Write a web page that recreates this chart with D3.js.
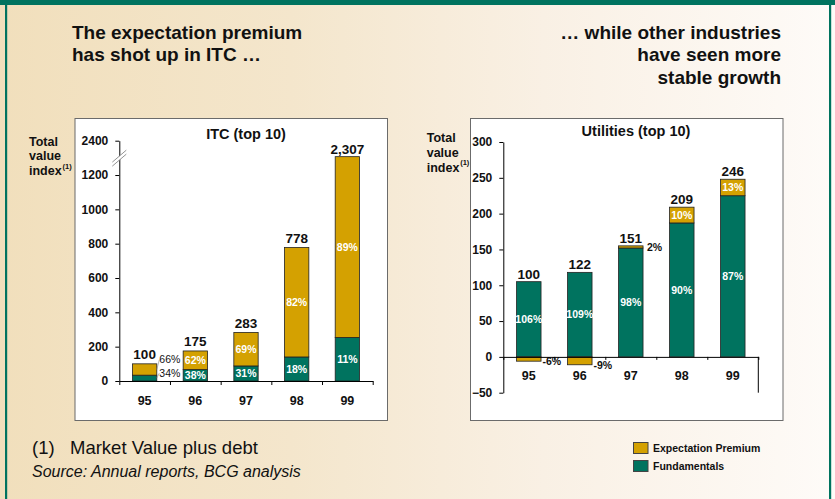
<!DOCTYPE html>
<html>
<head>
<meta charset="utf-8">
<script src="https://cdn.jsdelivr.net/npm/d3@7"></script>
<style>
  body { margin: 0; }
  svg { display: block; font-family: "Liberation Sans", Arial, sans-serif; }
</style>
</head>
<body>
<div id="chart"></div>
<script>
// Values
var years = ["95", "96", "97", "98", "99"];

var itcTotal = [100, 175, 283, 778, 2307];
var itcFundShare = [34, 38, 31, 18, 11];
var itcPremShare = [66, 62, 69, 82, 89];
var itcTicks = [0, 200, 400, 600, 800, 1000, 1200, 2400];

var utilTotal = [100, 122, 151, 209, 246];
var utilFund = [105, 118, 152, 187, 225];
var utilPrem = [-6, -11, 3, 22, 23];
var utilFundLabel = ["106%", "109%", "98%", "90%", "87%"];
var utilPremLabel = ["-6%", "-9%", "2%", "10%", "13%"];
var utilTicks = [-50, 0, 50, 100, 150, 200, 250, 300];

var teal = "#00735f";
var gold = "#d4a101";

var width = 835, height = 499;

var svg = d3.select("#chart").append("svg")
    .attr("width", width)
    .attr("height", height);

// background gradient
var grad = svg.append("defs").append("linearGradient")
    .attr("id", "bg").attr("x1", "0").attr("x2", "1").attr("y1", "0").attr("y2", "0");
grad.append("stop").attr("offset", "0").attr("stop-color", "#f1dfbc");
grad.append("stop").attr("offset", "0.35").attr("stop-color", "#f4e6cc");
grad.append("stop").attr("offset", "0.65").attr("stop-color", "#f9f0e4");
grad.append("stop").attr("offset", "1").attr("stop-color", "#fefbf8");

svg.append("rect").attr("width", width).attr("height", height).attr("fill", "url(#bg)");
svg.append("rect").attr("x", 0).attr("y", 0).attr("width", width).attr("height", 5).attr("fill", teal);
svg.append("rect").attr("x", 5).attr("y", 0).attr("width", 2.2).attr("height", height).attr("fill", teal);
svg.append("rect").attr("x", 829).attr("y", 0).attr("width", 2.2).attr("height", height).attr("fill", teal);

// headlines
function lines(list, x, y0, anchor) {
    var t = svg.append("text")
        .attr("text-anchor", anchor)
        .attr("font-weight", "bold")
        .attr("font-size", 19)
        .attr("fill", "#111");
    list.forEach(function(s, i) {
        t.append("tspan").attr("x", x).attr("y", y0 + i * 22.5).text(s);
    });
}
lines(["The expectation premium", "has shot up in ITC \u2026"], 72, 38.5, "start");
lines(["\u2026 while other industries", "have seen more", "stable growth"], 781, 38.5, "end");

// white chart boxes
svg.append("rect").attr("x", 75).attr("y", 118.5).attr("width", 312.5).attr("height", 302)
    .attr("fill", "#fff").attr("stroke", "#6b6b6b").attr("stroke-width", 1);
svg.append("rect").attr("x", 470.5).attr("y", 118.5).attr("width", 312.5).attr("height", 302)
    .attr("fill", "#fff").attr("stroke", "#6b6b6b").attr("stroke-width", 1);

function yLabel(x, y0) {
    var t = svg.append("text").attr("font-weight", "bold").attr("font-size", 12.5).attr("fill", "#111");
    t.append("tspan").attr("x", x).attr("y", y0).text("Total");
    t.append("tspan").attr("x", x).attr("y", y0 + 14.7).text("value");
    t.append("tspan").attr("x", x).attr("y", y0 + 29.4).text("index");
    svg.append("text").attr("x", x + 33.5).attr("y", y0 + 23).attr("font-size", 7.5)
        .attr("font-weight", "bold").attr("fill", "#111").text("(1)");
}
yLabel(29, 145.7);
yLabel(426.7, 142.3);

// ---------------- ITC chart ----------------
var breakAt = 1200, breakGap = 1000;
function brk(v) { return v > breakAt ? v - breakGap : v; }

var x1 = d3.scaleBand().domain(years).range([119.3, 372.7]).paddingInner(0.52).paddingOuter(0.26);
var y1 = d3.scaleLinear().domain([0, 1400]).range([381, 140.7]);
var x1Edge = d3.scaleLinear().domain([0, years.length]).range(x1.range());

var g1 = svg.append("g");

g1.append("text").attr("x", 246).attr("y", 139).attr("text-anchor", "middle")
    .attr("font-weight", "bold").attr("font-size", 14.5).attr("fill", "#111").text("ITC (top 10)");

var itcRows = years.map(function(yr, i) {
    var fund = itcTotal[i] * itcFundShare[i] / 100;
    return { yr: yr, i: i, fund: fund, total: itcTotal[i] };
});

g1.selectAll(".fund").data(itcRows).enter().append("rect")
    .attr("x", d => x1(d.yr)).attr("width", x1.bandwidth())
    .attr("y", d => y1(d.fund)).attr("height", d => y1(0) - y1(d.fund))
    .attr("fill", teal).attr("stroke", "#222").attr("stroke-width", 0.8);

g1.selectAll(".prem").data(itcRows).enter().append("rect")
    .attr("x", d => x1(d.yr)).attr("width", x1.bandwidth())
    .attr("y", d => y1(brk(d.total))).attr("height", d => y1(d.fund) - y1(brk(d.total)))
    .attr("fill", gold).attr("stroke", "#222").attr("stroke-width", 0.8);

// totals
g1.selectAll(".tot").data(itcRows).enter().append("text")
    .attr("x", d => x1(d.yr) + x1.bandwidth() / 2)
    .attr("y", d => y1(brk(d.total)) - (d.total > breakAt ? 2.5 : 4.5))
    .attr("text-anchor", "middle").attr("font-weight", "bold").attr("font-size", 13.5).attr("fill", "#111")
    .text(d => d.total >= 1000 ? d3.format(",")(d.total) : d.total);

// percent labels
itcRows.forEach(function(d) {
    var cx = x1(d.yr) + x1.bandwidth() / 2;
    if (d.total < 150) {
        var lx = x1(d.yr) + x1.bandwidth() + 2.5;
        g1.append("text").attr("x", lx).attr("y", y1(d.total) - 1)
            .attr("font-size", 10.5).attr("fill", "#111").text(itcPremShare[d.i] + "%");
        g1.append("text").attr("x", lx).attr("y", y1(d.fund) + 2)
            .attr("font-size", 10.5).attr("fill", "#111").text(itcFundShare[d.i] + "%");
        g1.append("line").attr("x1", lx - 2.5).attr("x2", lx).attr("y1", y1((d.fund + d.total) / 2)).attr("y2", y1(d.total) - 4)
            .attr("stroke", "#888").attr("stroke-width", 0.6);
        g1.append("line").attr("x1", lx - 2.5).attr("x2", lx).attr("y1", y1(d.fund / 2)).attr("y2", y1(d.fund) - 2)
            .attr("stroke", "#888").attr("stroke-width", 0.6);
    } else {
        g1.append("text").attr("x", cx).attr("y", (y1(d.fund) + y1(brk(d.total))) / 2).attr("dy", "0.36em")
            .attr("text-anchor", "middle").attr("font-weight", "bold").attr("font-size", 10.5).attr("fill", "#fff")
            .text(itcPremShare[d.i] + "%");
        g1.append("text").attr("x", cx).attr("y", (y1(0) + y1(d.fund)) / 2).attr("dy", "0.36em")
            .attr("text-anchor", "middle").attr("font-weight", "bold").attr("font-size", 10.5).attr("fill", "#fff")
            .text(itcFundShare[d.i] + "%");
    }
});

// axes
g1.append("g").attr("transform", "translate(" + x1.range()[0] + ",0)")
    .call(d3.axisLeft(y1).tickValues(itcTicks.map(brk)).tickSize(4).tickSizeOuter(0).tickPadding(7)
        .tickFormat(function(v, i) { return itcTicks[i]; }));
g1.append("g").attr("transform", "translate(0," + y1(0) + ")")
    .call(d3.axisBottom(x1Edge).ticks(years.length).tickSize(4).tickSizeOuter(0).tickFormat(""));
g1.selectAll(".xl").data(years).enter().append("text")
    .attr("x", d => x1(d) + x1.bandwidth() / 2).attr("y", y1(0) + 23.5)
    .attr("text-anchor", "middle").attr("font-weight", "bold").attr("font-size", 12.5).attr("fill", "#111").text(d => d);

// axis break mark
var by = y1(1310), bxp = x1.range()[0];
g1.append("path").attr("d", "M" + (bxp - 7) + "," + (by + 6) + "L" + (bxp + 7) + "," + (by - 6) +
        "L" + (bxp + 7) + "," + (by - 2) + "L" + (bxp - 7) + "," + (by + 10) + "Z")
    .attr("fill", "#fff");
[0, 4].forEach(function(o) {
    g1.append("line").attr("x1", bxp - 7).attr("y1", by + 6 + o).attr("x2", bxp + 7).attr("y2", by - 6 + o)
        .attr("stroke", "#777").attr("stroke-width", 0.8);
});

// ---------------- Utilities chart ----------------
var x2 = d3.scaleBand().domain(years).range([503.3, 758.3]).paddingInner(0.52).paddingOuter(0.26);
var y2 = d3.scaleLinear().domain([-50, 300]).range([392.7, 142]);
var x2Edge = d3.scaleLinear().domain([0, years.length]).range(x2.range());

var g2 = svg.append("g");
g2.append("text").attr("x", 636).attr("y", 135.7).attr("text-anchor", "middle")
    .attr("font-weight", "bold").attr("font-size", 14.5).attr("fill", "#111").text("Utilities (top 10)");

var utilRows = years.map(function(yr, i) {
    return { yr: yr, i: i, fund: utilFund[i], prem: utilPrem[i], total: utilTotal[i] };
});

g2.selectAll(".fund").data(utilRows).enter().append("rect")
    .attr("x", d => x2(d.yr)).attr("width", x2.bandwidth())
    .attr("y", d => y2(d.fund)).attr("height", d => y2(0) - y2(d.fund))
    .attr("fill", teal).attr("stroke", "#222").attr("stroke-width", 0.8);

g2.selectAll(".prem").data(utilRows).enter().append("rect")
    .attr("x", d => x2(d.yr)).attr("width", x2.bandwidth())
    .attr("y", d => d.prem < 0 ? y2(0) : y2(d.fund + d.prem))
    .attr("height", d => Math.abs(y2(0) - y2(d.prem)))
    .attr("fill", gold).attr("stroke", "#222").attr("stroke-width", 0.8);

g2.selectAll(".tot").data(utilRows).enter().append("text")
    .attr("x", d => x2(d.yr) + x2.bandwidth() / 2)
    .attr("y", d => y2(d.fund + Math.max(d.prem, 0)) - 3)
    .attr("text-anchor", "middle").attr("font-weight", "bold").attr("font-size", 13.5).attr("fill", "#111")
    .text(d => d.total);

utilRows.forEach(function(d) {
    var cx = x2(d.yr) + x2.bandwidth() / 2;
    var right = x2(d.yr) + x2.bandwidth();
    g2.append("text").attr("x", cx).attr("y", (y2(0) + y2(d.fund)) / 2).attr("dy", "0.36em")
        .attr("text-anchor", "middle").attr("font-weight", "bold").attr("font-size", 10.5).attr("fill", "#fff")
        .text(utilFundLabel[d.i]);
    if (d.prem < 0) {
        g2.append("text").attr("x", right + 1.5).attr("y", y2(d.prem) + 4)
            .attr("font-weight", "bold").attr("font-size", 10.5).attr("fill", "#111").text(utilPremLabel[d.i]);
    } else if (d.prem < 5) {
        g2.append("text").attr("x", right + 4).attr("y", y2(d.fund + d.prem) + 5.5)
            .attr("font-weight", "bold").attr("font-size", 10.5).attr("fill", "#111").text(utilPremLabel[d.i]);
    } else {
        g2.append("text").attr("x", cx).attr("y", (y2(d.fund) + y2(d.fund + d.prem)) / 2).attr("dy", "0.36em")
            .attr("text-anchor", "middle").attr("font-weight", "bold").attr("font-size", 10.5).attr("fill", "#fff")
            .text(utilPremLabel[d.i]);
    }
});

g2.append("g").attr("transform", "translate(" + x2.range()[0] + ",0)")
    .call(d3.axisLeft(y2).tickValues(utilTicks).tickSize(4).tickSizeOuter(0).tickPadding(7));
g2.append("g").attr("transform", "translate(0," + y2(0) + ")")
    .call(d3.axisBottom(x2Edge).ticks(years.length).tickSize(3).tickSizeOuter(0).tickFormat(""));
g2.append("line").attr("x1", x2.range()[1]).attr("x2", x2.range()[1]).attr("y1", y2(0)).attr("y2", y2(-50))
    .attr("stroke", "#000").attr("stroke-width", 1);
g2.selectAll(".xl").data(years).enter().append("text")
    .attr("x", d => x2(d) + x2.bandwidth() / 2).attr("y", y2(0) + 23.5)
    .attr("text-anchor", "middle").attr("font-weight", "bold").attr("font-size", 12.5).attr("fill", "#111").text(d => d);

// axis styling
svg.selectAll(".tick text").attr("font-size", 12).attr("font-weight", "bold").attr("fill", "#111")
    .attr("font-family", "Liberation Sans, Arial, sans-serif");
svg.selectAll(".domain, .tick line").attr("stroke", "#000");

// footnote and source
svg.append("text").attr("x", 32).attr("y", 453.5).attr("font-size", 18.5).attr("fill", "#111")
    .text("(1)").append("tspan").attr("x", 70).text("Market Value plus debt");
svg.append("text").attr("x", 32).attr("y", 476.5).attr("font-size", 16).attr("font-style", "italic")
    .attr("fill", "#111").text("Source: Annual reports, BCG analysis");

// legend
var legendItems = [["Expectation Premium", gold], ["Fundamentals", teal]];
var lg = svg.append("g").attr("transform", "translate(633.5,442.5)");
legendItems.forEach(function(it, i) {
    lg.append("rect").attr("x", 0).attr("y", i * 18).attr("width", 14.5).attr("height", 11)
        .attr("fill", it[1]).attr("stroke", "#444").attr("stroke-width", 1);
    lg.append("text").attr("x", 19.5).attr("y", i * 18 + 9.5).attr("font-weight", "bold")
        .attr("font-size", 10.5).attr("fill", "#111").text(it[0]);
});
</script>
</body>
</html>
